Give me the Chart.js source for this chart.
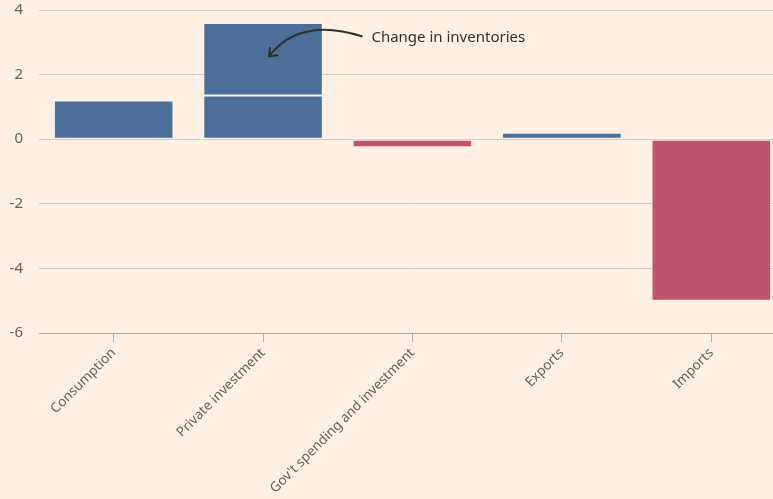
<!DOCTYPE html>
<html>
<head>
<meta charset="utf-8">
<script src="https://cdn.jsdelivr.net/npm/chart.js@4"></script>
<style>
    html, body { margin: 0; padding: 0; background: #fff1e5; overflow: hidden; }
    #wrap { width: 786px; height: 499px; }
</style>
</head>
<body>
<div id="wrap"><canvas id="chart"></canvas></div>
<script>
// Contributions to growth, percentage points
const categories = ['Consumption', 'Private investment', "Gov't spending and investment", 'Exports', 'Imports'];
const baseValues = [1.2, 1.35, -0.25, 0.2, -5.0];
const inventoryValues = [0, 2.25, 0, 0, 0];
const yTicks = [4, 2, 0, -2, -4, -6];
const annotationText = 'Change in inventories';

const BLUE = '#4a6f98';
const PINK = '#c0546f';
const barColor = v => (v < 0 ? PINK : BLUE);

// Curved arrow pointing at the inventories segment
const annotationPlugin = {
    id: 'annotation',
    afterDatasetsDraw(chart) {
        const { ctx, scales: { x, y } } = chart;
        const step = x.getPixelForValue(1) - x.getPixelForValue(0);
        const tipX = x.getPixelForValue(1) + step * 0.04;
        const tipY = y.getPixelForValue(2.57);
        const startX = x.getPixelForValue(1) + step * 0.665;
        const startY = y.getPixelForValue(3.18);
        const textX = x.getPixelForValue(1) + step * 0.725;

        ctx.save();
        ctx.strokeStyle = '#33302e';
        ctx.lineWidth = 2;
        ctx.beginPath();
        ctx.moveTo(startX, startY);
        ctx.quadraticCurveTo(startX - step * 0.42, startY - 20, tipX, tipY);
        ctx.stroke();
        // arrow head
        ctx.beginPath();
        ctx.moveTo(tipX + 1, tipY - 9);
        ctx.lineTo(tipX, tipY);
        ctx.lineTo(tipX + 9, tipY - 1);
        ctx.stroke();

        ctx.fillStyle = '#33302e';
        ctx.font = '15px "Noto Sans"';
        ctx.textBaseline = 'middle';
        ctx.fillText(annotationText, textX, startY + 1);
        ctx.restore();
    }
};

new Chart(document.getElementById('chart'), {
    type: 'bar',
    data: {
        labels: categories,
        datasets: [{
            label: 'Contribution',
            data: baseValues,
            backgroundColor: baseValues.map(barColor),
            borderColor: 'rgba(255,241,229,0.45)',
            borderWidth: 1,
            borderSkipped: false,
        }, {
            label: annotationText,
            data: inventoryValues,
            backgroundColor: BLUE,
            borderColor: 'rgba(255,241,229,0.45)',
            borderWidth: 1,
            borderSkipped: false,
        }],
    },
    options: {
        responsive: true,
        maintainAspectRatio: false,
        animation: false,
        layout: { padding: { top: 10, right: 0, left: 0, bottom: 0 } },
        plugins: {
            legend: { display: false },
            tooltip: { enabled: false },
        },
        datasets: {
            bar: { barPercentage: 0.8, categoryPercentage: 1.0 },
        },
        scales: {
            x: {
                stacked: true,
                grid: {
                    offset: false,
                    drawOnChartArea: false,
                    drawTicks: true,
                    tickLength: 9,
                    color: '#b3aba4',
                },
                border: { color: '#b3aba4', width: 1 },
                ticks: {
                    maxRotation: 45,
                    minRotation: 45,
                    color: '#66605c',
                    font: { family: 'Noto Sans', size: 13.5 },
                    padding: 3,
                },
                afterFit(scale) { scale.height = 166; },
            },
            y: {
                stacked: true,
                min: -6,
                max: 4,
                afterBuildTicks(scale) { scale.ticks = yTicks.map(v => ({ value: v })); },
                grid: {
                    color: '#dccbbd',
                    drawTicks: false,
                },
                border: { display: false },
                ticks: {
                    color: '#66605c',
                    font: { family: 'Noto Sans', size: 15 },
                    padding: 16,
                },
                afterFit(scale) {
                    scale.width = 39;
                    scale.paddingTop = 0;
                    scale.paddingBottom = 0;
                },
            },
        },
    },
    plugins: [annotationPlugin],
});
</script>
</body>
</html>
